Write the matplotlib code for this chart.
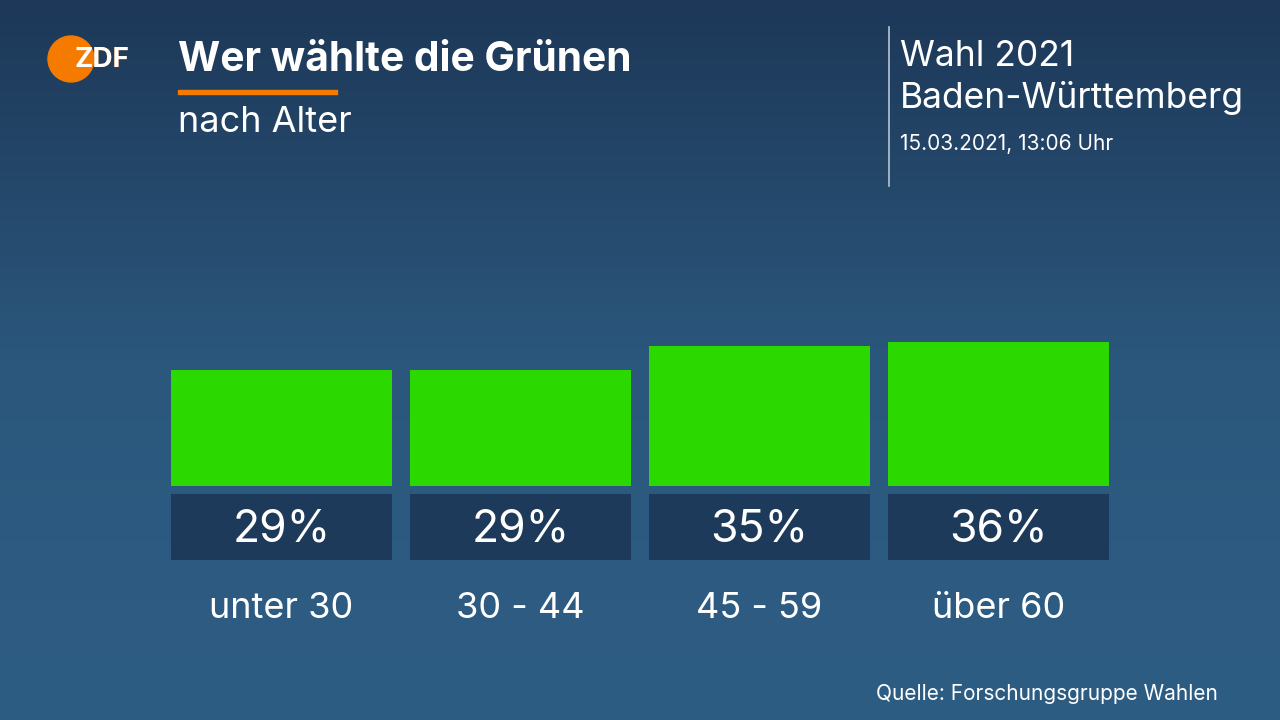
import numpy as np
import matplotlib
matplotlib.use("Agg")
import matplotlib.pyplot as plt
from matplotlib.patches import Circle, Rectangle
from matplotlib.colors import LinearSegmentedColormap

# Data
categories = ["unter 30", "30 - 44", "45 - 59", "über 60"]
values = [29, 29, 35, 36]
value_labels = ["29%", "29%", "35%", "36%"]

title = "Wer wählte die Grünen"
subtitle = "nach Alter"
header_line1 = "Wahl 2021"
header_line2 = "Baden-Württemberg"
date_text = "15.03.2021, 13:06 Uhr"
source = "Quelle: Forschungsgruppe Wahlen"

plt.rcParams['font.family'] = ['Inter', 'DejaVu Sans']

W, H = 1280, 720
fig = plt.figure(figsize=(W / 100, H / 100), dpi=100)

# background gradient
bg = fig.add_axes([0, 0, 1, 1])
bg.set_axis_off()
cmap = LinearSegmentedColormap.from_list("bg", ["#1d3858", "#2b577c", "#2e5d84"])
grad = np.linspace(0, 1, 256).reshape(-1, 1)
bg.imshow(grad, aspect="auto", cmap=cmap, extent=[0, W, H, 0])
bg.set_xlim(0, W)
bg.set_ylim(H, 0)

# Logo
circ = Circle((71, 59), 23, color="#f47a00", zorder=3)
bg.add_patch(circ)
bg.text(75, 60, "ZDF", color="#f47a00", fontsize=20, fontweight="bold",
        va="center", ha="left", zorder=4)
t2 = bg.text(75, 60, "ZDF", color="white", fontsize=20, fontweight="bold",
             va="center", ha="left", zorder=5)
t2.set_clip_path(circ)

# Title
bg.text(178, 60, title, color="white", fontsize=29.3, fontweight="bold",
        va="center", ha="left")
bg.add_patch(Rectangle((178, 90), 159, 3.5, color="#f47a00"))
bg.text(178, 122, subtitle, color="white", fontsize=26, va="center", ha="left")

# Right header
bg.plot([889, 889], [27, 186], color="#b9c4cf", lw=1.2)
bg.text(900, 56, header_line1, color="white", fontsize=25.5, va="center", ha="left")
bg.text(900, 98, header_line2, color="white", fontsize=25.5, va="center", ha="left")
bg.text(900, 144, date_text, color="white", fontsize=15, va="center", ha="left")

# Source
bg.text(1218, 694, source, color="white", fontsize=15, va="center", ha="right")

# Bars axes: 4 px per percent; y from -35 to 50
scale = 4.0
ymin, ymax = -35, 50
base_px = 486
bottom_px = base_px + (-ymin) * scale
top_px = base_px - ymax * scale
step = 239.0
half = 221.0 / 2 / step
left_px = 171
xl = -half
xr = 3 + half
ax_w_px = (xr - xl) * step
ax = fig.add_axes([left_px / W, (H - bottom_px) / H, ax_w_px / W, (bottom_px - top_px) / H])
ax.set_xlim(xl, xr)
ax.set_ylim(ymin, ymax)
ax.set_axis_off()
x = np.arange(len(categories))
ax.bar(x, values, width=221 / step, color="#2bd900")
ax.bar(x, [-16.5] * len(x), bottom=-2, width=221 / step, color="#1e3a5a")
for i, (lab, cat) in enumerate(zip(value_labels, categories)):
    ax.text(i, -11.0, lab, color="white", fontsize=32, ha="center", va="center")
    ax.text(i, -30.5, cat, color="white", fontsize=26, ha="center", va="center")

fig.savefig("out.png", dpi=100)
